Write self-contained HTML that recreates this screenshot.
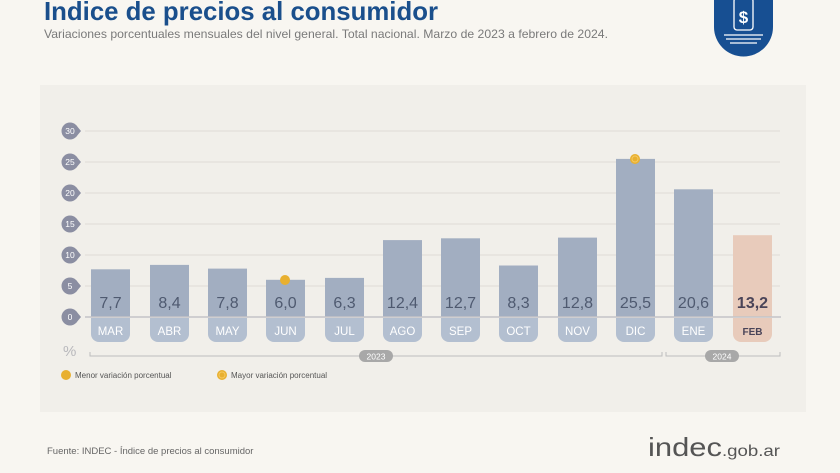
<!DOCTYPE html>
<html><head><meta charset="utf-8"><style>
html,body{margin:0;padding:0;background:#f8f6f1;}
svg{display:block;font-family:"Liberation Sans",sans-serif;}
</style></head><body>
<svg width="840" height="473" viewBox="0 0 840 473" xmlns="http://www.w3.org/2000/svg">
<rect width="840" height="473" fill="#f8f6f1"/>
<text x="44" y="20" font-size="26" font-weight="bold" fill="#1a4f8c" textLength="394" lengthAdjust="spacingAndGlyphs">Indice de precios al consumidor</text>
<text x="44" y="38" font-size="12" fill="#7a7a7a" textLength="564" lengthAdjust="spacingAndGlyphs">Variaciones porcentuales mensuales del nivel general. Total nacional. Marzo de 2023 a febrero de 2024.</text>
<path d="M714 0 H773 V27 A29.5 29.5 0 0 1 714 27 Z" fill="#174f92"/>
<rect x="734" y="-2" width="19" height="32" rx="3" fill="none" stroke="#fff" stroke-width="1.3"/>
<text x="743.5" y="23" font-size="17" font-weight="bold" fill="#fff" text-anchor="middle">$</text>
<g stroke="#fff" stroke-width="1.2"><line x1="724" y1="35" x2="763" y2="35"/><line x1="726" y1="39" x2="761" y2="39"/><line x1="730" y1="43" x2="757" y2="43"/></g>
<rect x="40" y="85" width="766" height="327" fill="#f1efea"/>
<g stroke="#dedbd6" stroke-width="1">
<line x1="85" y1="131" x2="780" y2="131"/><line x1="85" y1="162" x2="780" y2="162"/><line x1="85" y1="193" x2="780" y2="193"/><line x1="85" y1="224" x2="780" y2="224"/><line x1="85" y1="255" x2="780" y2="255"/><line x1="85" y1="286" x2="780" y2="286"/>
</g>
<g fill="#8b8ea2">
<circle cx="70" cy="131" r="8.5"/><path d="M76 125 L81 131 L76 137Z"/>
<circle cx="70" cy="162" r="8.5"/><path d="M76 156 L81 162 L76 168Z"/>
<circle cx="70" cy="193" r="8.5"/><path d="M76 187 L81 193 L76 199Z"/>
<circle cx="70" cy="224" r="8.5"/><path d="M76 218 L81 224 L76 230Z"/>
<circle cx="70" cy="255" r="8.5"/><path d="M76 249 L81 255 L76 261Z"/>
<circle cx="70" cy="286" r="8.5"/><path d="M76 280 L81 286 L76 292Z"/>
<circle cx="70" cy="317" r="8.5"/><path d="M76 311 L81 317 L76 323Z"/>
</g>
<g font-size="8.5" fill="#fff" text-anchor="middle">
<text x="70" y="134">30</text><text x="70" y="165">25</text><text x="70" y="196">20</text><text x="70" y="227">15</text><text x="70" y="258">10</text><text x="70" y="289">5</text><text x="70" y="320">0</text>
</g>
<g fill="#a2aec1">
<rect x="91" y="269.3" width="39" height="47.7"/>
<rect x="150" y="264.9" width="39" height="52.1"/>
<rect x="208" y="268.6" width="39" height="48.4"/>
<rect x="266" y="279.8" width="39" height="37.2"/>
<rect x="325" y="277.9" width="39" height="39.1"/>
<rect x="383" y="240.1" width="39" height="76.9"/>
<rect x="441" y="238.3" width="39" height="78.7"/>
<rect x="499" y="265.5" width="39" height="51.5"/>
<rect x="558" y="237.6" width="39" height="79.4"/>
<rect x="616" y="158.9" width="39" height="158.1"/>
<rect x="674" y="189.3" width="39" height="127.7"/>
</g>
<rect x="733" y="235.2" width="39" height="81.8" fill="#e8cbbb"/>
<g fill="#b3bfd0">
<path d="M91 318 H130 V334 a8 8 0 0 1 -8 8 H99 a8 8 0 0 1 -8 -8Z"/>
<path d="M150 318 H189 V334 a8 8 0 0 1 -8 8 H158 a8 8 0 0 1 -8 -8Z"/>
<path d="M208 318 H247 V334 a8 8 0 0 1 -8 8 H216 a8 8 0 0 1 -8 -8Z"/>
<path d="M266 318 H305 V334 a8 8 0 0 1 -8 8 H274 a8 8 0 0 1 -8 -8Z"/>
<path d="M325 318 H364 V334 a8 8 0 0 1 -8 8 H333 a8 8 0 0 1 -8 -8Z"/>
<path d="M383 318 H422 V334 a8 8 0 0 1 -8 8 H391 a8 8 0 0 1 -8 -8Z"/>
<path d="M441 318 H480 V334 a8 8 0 0 1 -8 8 H449 a8 8 0 0 1 -8 -8Z"/>
<path d="M499 318 H538 V334 a8 8 0 0 1 -8 8 H507 a8 8 0 0 1 -8 -8Z"/>
<path d="M558 318 H597 V334 a8 8 0 0 1 -8 8 H566 a8 8 0 0 1 -8 -8Z"/>
<path d="M616 318 H655 V334 a8 8 0 0 1 -8 8 H624 a8 8 0 0 1 -8 -8Z"/>
<path d="M674 318 H713 V334 a8 8 0 0 1 -8 8 H682 a8 8 0 0 1 -8 -8Z"/>
</g>
<path d="M733 318 H772 V334 a8 8 0 0 1 -8 8 H741 a8 8 0 0 1 -8 -8Z" fill="#e8cbbb"/>
<line x1="85" y1="317" x2="781" y2="317" stroke="#c4c4c8" stroke-width="1.5"/>
<g font-size="16" fill="#4f5a70" text-anchor="middle">
<text x="110.5" y="308">7,7</text><text x="169.5" y="308">8,4</text><text x="227.5" y="308">7,8</text><text x="285.5" y="308">6,0</text><text x="344.5" y="308">6,3</text><text x="402.5" y="308">12,4</text><text x="460.5" y="308">12,7</text><text x="518.5" y="308">8,3</text><text x="577.5" y="308">12,8</text><text x="635.5" y="308">25,5</text><text x="693.5" y="308">20,6</text>
</g>
<text x="752.5" y="308" font-size="16" font-weight="bold" fill="#4a4458" text-anchor="middle">13,2</text>
<g font-size="11.5" fill="#fff" text-anchor="middle">
<text x="110.5" y="335">MAR</text><text x="169.5" y="335">ABR</text><text x="227.5" y="335">MAY</text><text x="285.5" y="335">JUN</text><text x="344.5" y="335">JUL</text><text x="402.5" y="335">AGO</text><text x="460.5" y="335">SEP</text><text x="518.5" y="335">OCT</text><text x="577.5" y="335">NOV</text><text x="635.5" y="335">DIC</text><text x="693.5" y="335">ENE</text>
</g>
<text x="752.5" y="335" font-size="10" font-weight="bold" fill="#4a4458" text-anchor="middle">FEB</text>
<circle cx="285" cy="280" r="5" fill="#e8b030"/>
<circle cx="635" cy="159" r="5" fill="#e8b030"/><circle cx="635" cy="159" r="3" fill="none" stroke="#f5c860" stroke-width="1"/>
<text x="63" y="356" font-size="15" fill="#b8b8bc">%</text>
<g stroke="#bdbdbd" stroke-width="1" fill="none">
<path d="M90 352 V356 H662 V352"/>
<path d="M666 352 V356 H780 V352"/>
</g>
<rect x="359" y="350" width="34" height="12" rx="6" fill="#a8a8a8"/>
<text x="376" y="359.5" font-size="8.5" fill="#fff" text-anchor="middle">2023</text>
<rect x="705" y="350" width="34" height="12" rx="6" fill="#a8a8a8"/>
<text x="722" y="359.5" font-size="8.5" fill="#fff" text-anchor="middle">2024</text>
<circle cx="66" cy="375" r="5" fill="#e8b030"/>
<text x="75" y="378" font-size="8" fill="#555">Menor variación porcentual</text>
<circle cx="222" cy="375" r="5" fill="#e8b030"/><circle cx="222" cy="375" r="3" fill="none" stroke="#f5c860" stroke-width="1"/>
<text x="231" y="378" font-size="8" fill="#555">Mayor variación porcentual</text>
<text x="47" y="454" font-size="9.5" fill="#666">Fuente: INDEC - Índice de precios al consumidor</text>
<text x="648" y="456" font-size="26" fill="#555" textLength="74" lengthAdjust="spacingAndGlyphs">indec</text>
<text x="722" y="456" font-size="16" fill="#555" textLength="58" lengthAdjust="spacingAndGlyphs">.gob.ar</text>
</svg>
</body></html>
